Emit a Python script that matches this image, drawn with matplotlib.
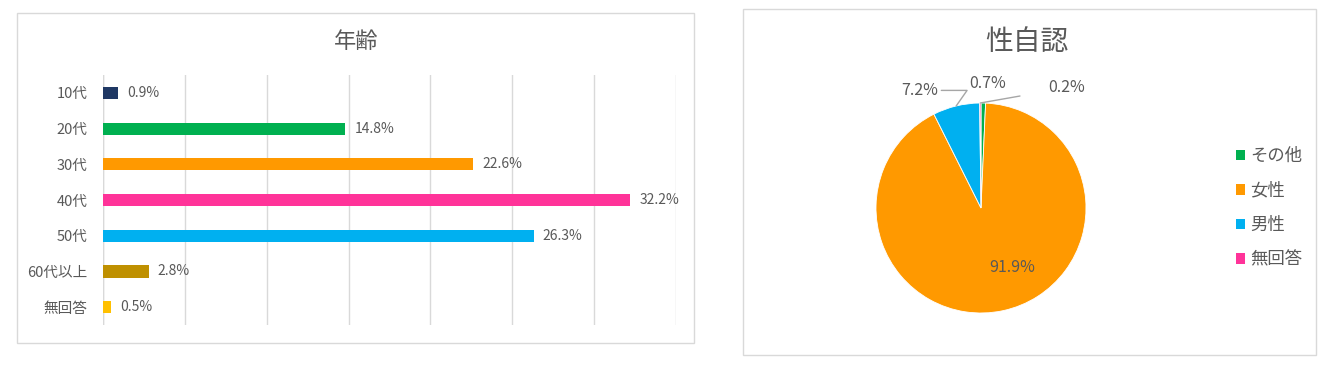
import numpy as np
import matplotlib
matplotlib.use("Agg")
import matplotlib.pyplot as plt
from matplotlib.patches import Rectangle, Patch

plt.rcParams['font.family'] = ['Noto Sans CJK JP', 'DejaVu Sans']

# ---- data ----
age_categories = ["10代", "20代", "30代", "40代", "50代", "60代以上", "無回答"]
age_values = [0.9, 14.8, 22.6, 32.2, 26.3, 2.8, 0.5]
age_colors = ["#1F3864", "#00B050", "#FF9900", "#FF3399", "#00B0F0", "#BF9000", "#FFC000"]

gender_categories = ["その他", "女性", "男性", "無回答"]
gender_values = [0.7, 91.9, 7.2, 0.2]
gender_colors = ["#00B050", "#FF9900", "#00B0F0", "#FF3399"]

TXT = "#595959"
W, H = 1328, 367
fig = plt.figure(figsize=(W / 100, H / 100), dpi=100)

def fx(px): return px / W
def fy(py): return 1 - py / H

# panel borders
fig.patches.append(Rectangle((fx(17), fy(343)), fx(694) - fx(17), fy(13) - fy(343),
                             transform=fig.transFigure, fill=False, ec="#D9D9D9", lw=1))
fig.patches.append(Rectangle((fx(743), fy(355)), fx(1316) - fx(743), fy(9) - fy(355),
                             transform=fig.transFigure, fill=False, ec="#D9D9D9", lw=1))

# ---- bar chart ----
ax = fig.add_axes([fx(103), fy(325), fx(676) - fx(103), fy(75) - fy(325)])
y = np.arange(len(age_categories))
ax.barh(y, age_values, height=0.34, color=age_colors, zorder=3)
ax.set_xlim(0, 35)
ax.set_ylim(len(age_categories) - 0.5, -0.5)
ax.set_xticks(np.arange(0, 36, 5))
ax.set_xticklabels([])
ax.tick_params(axis='x', length=0)
ax.tick_params(axis='y', length=0, pad=11, labelsize=10.5, labelcolor=TXT)
ax.set_yticks(y)
ax.set_yticklabels(age_categories)
ax.grid(axis='x', color="#D9D9D9", lw=1, zorder=0)
for s in ax.spines.values():
    s.set_visible(False)
ax.axvline(0, color="#D9D9D9", lw=1, zorder=1)
for yi, v in zip(y, age_values):
    ax.annotate(f"{v:.1f}%", (v, yi), xytext=(6.5, 0), textcoords="offset points",
                va="center", ha="left", fontsize=10, color=TXT)
fig.text(fx(356), fy(42), "年齢", ha="center", va="center", fontsize=16, color=TXT)

# ---- pie chart ----
axp = fig.add_axes([fx(876), fy(313), 210 / W, 210 / H])
wedges, _ = axp.pie(gender_values, colors=gender_colors, startangle=90, counterclock=False,
                    wedgeprops=dict(edgecolor="white", linewidth=0.6), radius=1)
axp.set_xlim(-1, 1)
axp.set_ylim(-1, 1)
axp.set_aspect('equal')
axp.axis('off')

def edge_point(w, r=1.0):
    a = np.deg2rad((w.theta1 + w.theta2) / 2)
    return r * np.cos(a), r * np.sin(a)

# 91.9% inside
axp.text(0.30, -0.57, f"{gender_values[1]:.1f}%", ha="center", va="center", fontsize=11.5, color=TXT)
# 0.7% above
axp.text(0.06, 1.19, f"{gender_values[0]:.1f}%", ha="center", va="center", fontsize=11.5, color=TXT)
# 7.2% with leader
p = edge_point(wedges[2])
axp.annotate(f"{gender_values[2]:.1f}%", xy=p, xytext=(-0.58, 1.12), ha="center", va="center",
             fontsize=11.5, color=TXT, annotation_clip=False,
             arrowprops=dict(arrowstyle="-", color="#A6A6A6", lw=1,
                             connectionstyle="angle,angleA=0,angleB=55,rad=0",
                             shrinkA=19, shrinkB=0))
# 0.2% with leader
p = edge_point(wedges[3])
axp.annotate(f"{gender_values[3]:.1f}%", xy=p, xytext=(0.82, 1.15), ha="center", va="center",
             fontsize=11.5, color=TXT, annotation_clip=False,
             arrowprops=dict(arrowstyle="-", color="#A6A6A6", lw=1,
                             connectionstyle="angle,angleA=0,angleB=10,rad=0",
                             shrinkA=19, shrinkB=0))

fig.text(fx(1027), fy(42), "性自認", ha="center", va="center", fontsize=20, color=TXT)

handles = [Patch(facecolor=c, edgecolor='none') for c in gender_colors]
leg = fig.legend(handles, gender_categories, loc="center left",
                 bbox_to_anchor=(fx(1220), fy(208)), frameon=False, fontsize=12.5,
                 handlelength=0.55, handleheight=0.55, handletextpad=0.3, labelspacing=0.95)
for t in leg.get_texts():
    t.set_color(TXT)

fig.savefig("out.png", dpi=100, facecolor="white")
